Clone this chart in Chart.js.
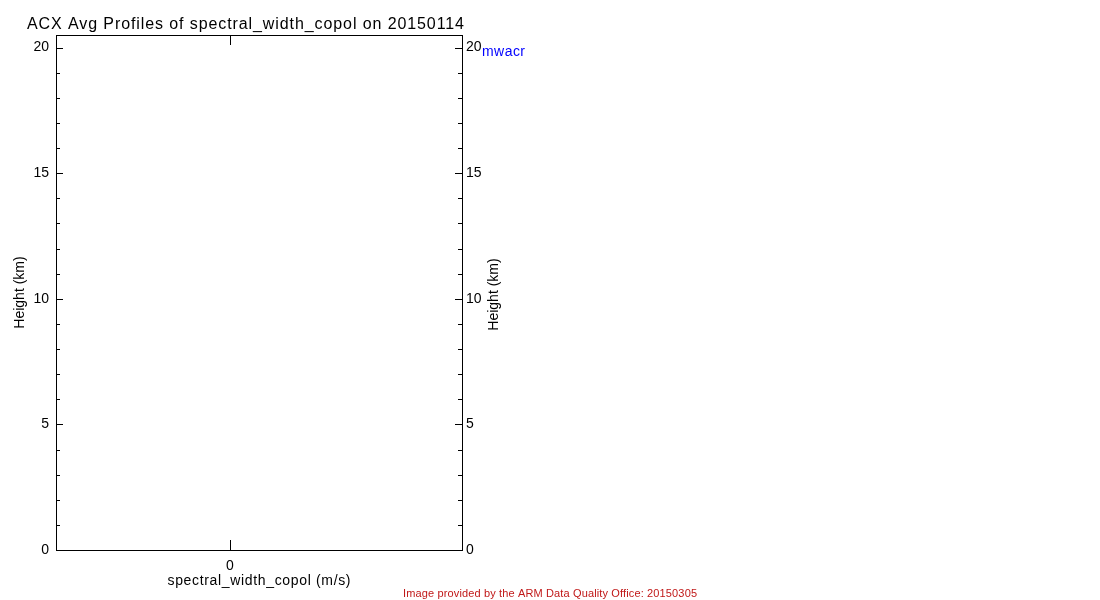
<!DOCTYPE html>
<html><head><meta charset="utf-8">
<script src="https://cdn.jsdelivr.net/npm/chart.js@4.4.1/dist/chart.umd.min.js"></script>
<style>html,body{margin:0;padding:0;background:#fff}canvas{display:block}</style>
</head><body>
<canvas id="c" width="1100" height="600"></canvas>
<script>
// ---- data ----
const chartTitle = 'ACX Avg Profiles of spectral_width_copol on 20150114';
const footerText = 'Image provided by the ARM Data Quality Office: 20150305';
const xAxisTitle = 'spectral_width_copol (m/s)';
const yAxisTitle = 'Height (km)';
const seriesNames = ['mwacr'];
const seriesColors = ['#0000ff'];
const mwacrHeights = [];   // km (no data in this profile)
const mwacrWidths = [];    // m/s
const xTicks = [0];
const yMajorTicks = [0, 5, 10, 15, 20];
const yMinorTicks = [1, 2, 3, 4, 6, 7, 8, 9, 11, 12, 13, 14, 16, 17, 18, 19];
const xRange = [-3, 4];
const yRange = [0, 20.5];

const FONT = '"Liberation Sans", Arial, sans-serif';
Chart.defaults.font.family = FONT;
Chart.defaults.color = '#000';

function fitText(ctx, text, x, y, target, align) {
  ctx.save();
  const hasLS = 'letterSpacing' in ctx;
  if (hasLS) ctx.letterSpacing = '0px';
  const w0 = ctx.measureText(text).width;
  let sp = 0;
  if (hasLS && text.length > 1) { sp = (target - w0) / (text.length - 1); ctx.letterSpacing = sp + 'px'; }
  const total = hasLS ? target : w0;
  let lx = x;
  if (align === 'center') lx = x - total / 2;
  ctx.textAlign = 'left';
  ctx.fillText(text, lx, y);
  ctx.restore();
}

const decor = {
  id: 'decor',
  afterDraw(chart) {
    const ctx = chart.ctx, ca = chart.chartArea;
    const ys = chart.scales.y, xs = chart.scales.x;
    ctx.save();
    ctx.strokeStyle = '#000';
    ctx.lineWidth = 1;
    ctx.beginPath();
    const tick = (v, len) => {
      const py = Math.round(ys.getPixelForValue(v)) + 0.5;
      ctx.moveTo(ca.left, py); ctx.lineTo(ca.left + len, py);
      ctx.moveTo(ca.right, py); ctx.lineTo(ca.right - len, py);
    };
    yMajorTicks.forEach(v => tick(v, 7));
    yMinorTicks.forEach(v => tick(v, 4));
    xTicks.forEach(v => {
      const px = Math.round(xs.getPixelForValue(v)) + 0.5;
      ctx.moveTo(px, ca.bottom); ctx.lineTo(px, ca.bottom - 10);
      ctx.moveTo(px, ca.top); ctx.lineTo(px, ca.top + 10);
    });
    ctx.stroke();

    // main title
    ctx.fillStyle = '#000';
    ctx.textBaseline = 'alphabetic';
    ctx.font = '16px ' + FONT;
    fitText(ctx, chartTitle, 27, 29, 437, 'left');

    // x axis title
    ctx.font = '14px ' + FONT;
    fitText(ctx, xAxisTitle, (ca.left + ca.right) / 2, 585, 183, 'center');

    // right axis title (reads bottom to top)
    ctx.save();
    ctx.translate(494, (ca.top + ca.bottom) / 2 + 2);
    ctx.rotate(-Math.PI / 2);
    ctx.font = '14px ' + FONT;
    ctx.textBaseline = 'middle';
    ctx.textAlign = 'center';
    ctx.fillText(yAxisTitle, 0, 0);
    ctx.restore();

    // legend labels
    chart.data.datasets.forEach((ds, i) => {
      ctx.fillStyle = ds.borderColor;
      ctx.font = '14px ' + FONT;
      ctx.textBaseline = 'middle';
      fitText(ctx, ds.label, 482, 52 + i * 16, 43, 'left');
    });

    // footer
    ctx.fillStyle = '#c01818';
    ctx.font = '11px ' + FONT;
    ctx.textBaseline = 'alphabetic';
    fitText(ctx, footerText, 403, 597, 294, 'left');
    ctx.restore();
  }
};

const datasets = seriesNames.map((name, i) => ({
  label: name,
  data: mwacrWidths.map((w, k) => ({ x: w, y: mwacrHeights[k] })),
  borderColor: seriesColors[i],
  backgroundColor: seriesColors[i],
  showLine: true,
  pointRadius: 0,
  borderWidth: 1,
  xAxisID: 'x',
  yAxisID: 'y'
}));

const tickFont = { size: 14, family: FONT };
const border = { display: true, color: '#000', width: 1 };

new Chart(document.getElementById('c'), {
  type: 'scatter',
  data: { datasets },
  options: {
    responsive: false,
    animation: false,
    layout: { padding: 0 },
    plugins: { legend: { display: false }, tooltip: { enabled: false }, title: { display: false } },
    scales: {
      x: {
        type: 'linear', position: 'bottom', min: xRange[0], max: xRange[1],
        afterBuildTicks: s => { s.ticks = xTicks.map(v => ({ value: v })); },
        grid: { display: false, drawTicks: false },
        border,
        ticks: { color: '#000', font: tickFont, padding: 8, maxRotation: 0, autoSkip: false },
        title: { display: false },
        afterFit: s => { s.height = 50; }
      },
      x2: {
        type: 'linear', position: 'top', min: xRange[0], max: xRange[1],
        afterBuildTicks: s => { s.ticks = xTicks.map(v => ({ value: v })); },
        grid: { display: false, drawTicks: false },
        border,
        ticks: { display: false },
        afterFit: s => { s.height = 35; }
      },
      y: {
        type: 'linear', position: 'left', min: yRange[0], max: yRange[1],
        afterBuildTicks: s => { s.ticks = yMajorTicks.map(v => ({ value: v })); },
        grid: { display: false, drawTicks: false },
        border,
        ticks: { color: '#000', font: tickFont, padding: 7, autoSkip: false },
        title: { display: true, text: yAxisTitle, color: '#000', font: tickFont, padding: { top: 12, bottom: 0 } },
        afterFit: s => { s.width = 56; }
      },
      y2: {
        type: 'linear', position: 'right', min: yRange[0], max: yRange[1],
        afterBuildTicks: s => { s.ticks = yMajorTicks.map(v => ({ value: v })); },
        grid: { display: false, drawTicks: false },
        border,
        ticks: { color: '#000', font: tickFont, padding: 4, autoSkip: false },
        afterFit: s => { s.width = 638; }
      }
    }
  },
  plugins: [decor]
});
</script>
</body></html>
